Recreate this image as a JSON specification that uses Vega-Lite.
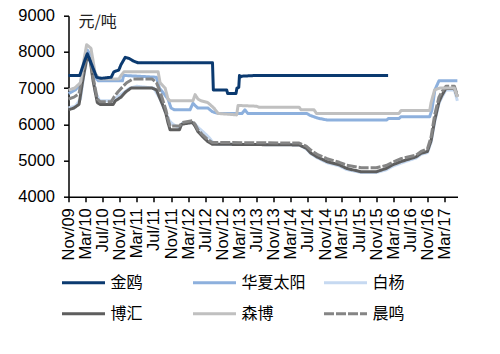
{
  "$schema": "https://vega.github.io/schema/vega-lite/v6.json",
  "autosize": "none",
  "width": 389,
  "height": 181,
  "padding": {"left": 68.5, "top": 15.7, "right": 42.5, "bottom": 157.3},
  "background": "white",
  "config": {
    "view": {"stroke": null},
    "axis": {"domainColor": "#000", "tickColor": "#000", "grid": false, "labelColor": "#000", "labelFont": "Liberation Sans", "labelFontSize": 16.5, "domainWidth": 1.5, "tickWidth": 1.5}
  },
  "datasets": {
    "rows": [
      {"s":"白杨","d":"2009-11-01","v":6450},{"s":"白杨","d":"2009-12-20","v":6500},{"s":"白杨","d":"2010-01-25","v":6700},{"s":"白杨","d":"2010-02-20","v":7400},{"s":"白杨","d":"2010-03-15","v":7800},{"s":"白杨","d":"2010-04-10","v":7700},{"s":"白杨","d":"2010-05-10","v":6900},{"s":"白杨","d":"2010-06-10","v":6650},{"s":"白杨","d":"2010-09-10","v":6650},{"s":"白杨","d":"2010-10-10","v":6750},{"s":"白杨","d":"2010-11-20","v":6850},{"s":"白杨","d":"2011-01-10","v":7000},{"s":"白杨","d":"2011-03-01","v":7050},{"s":"白杨","d":"2011-07-01","v":7000},{"s":"白杨","d":"2011-08-15","v":6700},{"s":"白杨","d":"2011-09-15","v":6400},{"s":"白杨","d":"2011-10-20","v":6100},{"s":"白杨","d":"2011-11-15","v":6000},{"s":"白杨","d":"2011-12-31","v":5900},{"s":"白杨","d":"2012-01-20","v":6030},{"s":"白杨","d":"2012-04-01","v":6050},{"s":"白杨","d":"2012-04-20","v":6000},{"s":"白杨","d":"2012-05-15","v":5900},{"s":"白杨","d":"2012-06-20","v":5780},{"s":"白杨","d":"2012-07-25","v":5650},{"s":"白杨","d":"2012-08-25","v":5500},{"s":"白杨","d":"2012-09-20","v":5450},{"s":"白杨","d":"2014-05-01","v":5430},{"s":"白杨","d":"2014-06-20","v":5320},{"s":"白杨","d":"2014-07-25","v":5180},{"s":"白杨","d":"2014-09-05","v":5080},{"s":"白杨","d":"2014-11-15","v":4940},{"s":"白杨","d":"2015-02-10","v":4850},{"s":"白杨","d":"2015-04-05","v":4750},{"s":"白杨","d":"2015-07-15","v":4670},{"s":"白杨","d":"2015-11-01","v":4670},{"s":"白杨","d":"2016-01-10","v":4740},{"s":"白杨","d":"2016-02-25","v":4840},{"s":"白杨","d":"2016-04-25","v":4930},{"s":"白杨","d":"2016-08-10","v":5070},{"s":"白杨","d":"2016-09-15","v":5170},{"s":"白杨","d":"2016-10-30","v":5220},{"s":"白杨","d":"2016-11-25","v":5500},{"s":"白杨","d":"2016-12-20","v":6050},{"s":"白杨","d":"2017-01-20","v":6580},{"s":"白杨","d":"2017-02-10","v":6750},{"s":"白杨","d":"2017-03-10","v":6950},{"s":"白杨","d":"2017-05-10","v":6950},{"s":"白杨","d":"2017-05-31","v":6650},

      {"s":"华夏太阳","d":"2009-11-01","v":6850},{"s":"华夏太阳","d":"2009-12-20","v":6950},{"s":"华夏太阳","d":"2010-01-25","v":7100},{"s":"华夏太阳","d":"2010-02-20","v":7700},{"s":"华夏太阳","d":"2010-03-15","v":8050},{"s":"华夏太阳","d":"2010-04-10","v":7900},{"s":"华夏太阳","d":"2010-05-10","v":7300},{"s":"华夏太阳","d":"2010-06-01","v":7200},{"s":"华夏太阳","d":"2010-11-20","v":7200},{"s":"华夏太阳","d":"2010-11-28","v":7350},{"s":"华夏太阳","d":"2011-07-20","v":7300},{"s":"华夏太阳","d":"2011-08-10","v":7000},{"s":"华夏太阳","d":"2011-09-10","v":6850},{"s":"华夏太阳","d":"2011-10-10","v":6700},{"s":"华夏太阳","d":"2011-11-01","v":6450},{"s":"华夏太阳","d":"2011-11-25","v":6400},{"s":"华夏太阳","d":"2012-03-15","v":6400},{"s":"华夏太阳","d":"2012-04-05","v":6580},{"s":"华夏太阳","d":"2012-04-25","v":6500},{"s":"华夏太阳","d":"2012-05-10","v":6450},{"s":"华夏太阳","d":"2012-07-20","v":6450},{"s":"华夏太阳","d":"2012-08-20","v":6350},{"s":"华夏太阳","d":"2012-10-01","v":6300},{"s":"华夏太阳","d":"2013-03-20","v":6300},{"s":"华夏太阳","d":"2013-04-10","v":6400},{"s":"华夏太阳","d":"2013-04-30","v":6300},{"s":"华夏太阳","d":"2014-06-25","v":6300},{"s":"华夏太阳","d":"2014-07-15","v":6250},{"s":"华夏太阳","d":"2014-09-10","v":6170},{"s":"华夏太阳","d":"2014-11-15","v":6120},{"s":"华夏太阳","d":"2016-01-15","v":6120},{"s":"华夏太阳","d":"2016-01-25","v":6160},{"s":"华夏太阳","d":"2016-04-10","v":6160},{"s":"华夏太阳","d":"2016-04-25","v":6210},{"s":"华夏太阳","d":"2016-11-15","v":6210},{"s":"华夏太阳","d":"2016-12-01","v":6400},{"s":"华夏太阳","d":"2016-12-22","v":6950},{"s":"华夏太阳","d":"2017-01-20","v":7200},{"s":"华夏太阳","d":"2017-05-31","v":7200},

      {"s":"博汇","d":"2009-11-01","v":6400},{"s":"博汇","d":"2009-12-10","v":6450},{"s":"博汇","d":"2010-01-15","v":6550},{"s":"博汇","d":"2010-02-10","v":7200},{"s":"博汇","d":"2010-03-12","v":7850},{"s":"博汇","d":"2010-04-05","v":7750},{"s":"博汇","d":"2010-04-25","v":7200},{"s":"博汇","d":"2010-05-25","v":6600},{"s":"博汇","d":"2010-06-15","v":6550},{"s":"博汇","d":"2010-09-15","v":6550},{"s":"博汇","d":"2010-10-01","v":6650},{"s":"博汇","d":"2010-11-10","v":6750},{"s":"博汇","d":"2010-12-15","v":6900},{"s":"博汇","d":"2011-01-20","v":7000},{"s":"博汇","d":"2011-06-20","v":7000},{"s":"博汇","d":"2011-07-20","v":6950},{"s":"博汇","d":"2011-08-10","v":6750},{"s":"博汇","d":"2011-09-01","v":6550},{"s":"博汇","d":"2011-09-25","v":6300},{"s":"博汇","d":"2011-10-10","v":6050},{"s":"博汇","d":"2011-10-25","v":5850},{"s":"博汇","d":"2011-12-31","v":5850},{"s":"博汇","d":"2012-01-15","v":6000},{"s":"博汇","d":"2012-04-01","v":6050},{"s":"博汇","d":"2012-04-20","v":5950},{"s":"博汇","d":"2012-05-10","v":5800},{"s":"博汇","d":"2012-06-15","v":5650},{"s":"博汇","d":"2012-07-20","v":5520},{"s":"博汇","d":"2012-08-20","v":5450},{"s":"博汇","d":"2014-05-01","v":5430},{"s":"博汇","d":"2014-06-20","v":5340},{"s":"博汇","d":"2014-07-25","v":5200},{"s":"博汇","d":"2014-09-05","v":5100},{"s":"博汇","d":"2014-11-15","v":4970},{"s":"博汇","d":"2015-02-10","v":4880},{"s":"博汇","d":"2015-04-05","v":4780},{"s":"博汇","d":"2015-07-15","v":4690},{"s":"博汇","d":"2015-11-01","v":4690},{"s":"博汇","d":"2016-01-10","v":4780},{"s":"博汇","d":"2016-02-25","v":4880},{"s":"博汇","d":"2016-04-25","v":4970},{"s":"博汇","d":"2016-08-10","v":5100},{"s":"博汇","d":"2016-09-15","v":5200},{"s":"博汇","d":"2016-10-30","v":5250},{"s":"博汇","d":"2016-11-25","v":5550},{"s":"博汇","d":"2016-12-20","v":6100},{"s":"博汇","d":"2017-01-20","v":6620},{"s":"博汇","d":"2017-02-10","v":6800},{"s":"博汇","d":"2017-03-10","v":6990},{"s":"博汇","d":"2017-05-10","v":6990},{"s":"博汇","d":"2017-05-31","v":6760},

      {"s":"晨鸣","d":"2009-11-01","v":6700},{"s":"晨鸣","d":"2009-12-10","v":6750},{"s":"晨鸣","d":"2010-01-15","v":6850},{"s":"晨鸣","d":"2010-02-10","v":7400},{"s":"晨鸣","d":"2010-03-10","v":7900},{"s":"晨鸣","d":"2010-04-05","v":7800},{"s":"晨鸣","d":"2010-04-25","v":7300},{"s":"晨鸣","d":"2010-05-25","v":6700},{"s":"晨鸣","d":"2010-06-15","v":6620},{"s":"晨鸣","d":"2010-09-01","v":6620},{"s":"晨鸣","d":"2010-09-20","v":6750},{"s":"晨鸣","d":"2010-10-20","v":6900},{"s":"晨鸣","d":"2010-11-25","v":7050},{"s":"晨鸣","d":"2010-12-20","v":7150},{"s":"晨鸣","d":"2011-02-01","v":7250},{"s":"晨鸣","d":"2011-06-20","v":7250},{"s":"晨鸣","d":"2011-07-20","v":7150},{"s":"晨鸣","d":"2011-08-10","v":6950},{"s":"晨鸣","d":"2011-09-01","v":6700},{"s":"晨鸣","d":"2011-09-25","v":6400},{"s":"晨鸣","d":"2011-10-10","v":6150},{"s":"晨鸣","d":"2011-10-25","v":5950},{"s":"晨鸣","d":"2011-12-31","v":5950},{"s":"晨鸣","d":"2012-01-20","v":6050},{"s":"晨鸣","d":"2012-04-01","v":6100},{"s":"晨鸣","d":"2012-04-20","v":6000},{"s":"晨鸣","d":"2012-05-10","v":5850},{"s":"晨鸣","d":"2012-06-15","v":5700},{"s":"晨鸣","d":"2012-07-20","v":5580},{"s":"晨鸣","d":"2012-08-20","v":5500},{"s":"晨鸣","d":"2014-05-01","v":5480},{"s":"晨鸣","d":"2014-06-20","v":5400},{"s":"晨鸣","d":"2014-07-25","v":5280},{"s":"晨鸣","d":"2014-09-05","v":5170},{"s":"晨鸣","d":"2014-11-15","v":5050},{"s":"晨鸣","d":"2015-02-10","v":4950},{"s":"晨鸣","d":"2015-04-05","v":4870},{"s":"晨鸣","d":"2015-07-15","v":4800},{"s":"晨鸣","d":"2015-11-01","v":4800},{"s":"晨鸣","d":"2016-01-10","v":4860},{"s":"晨鸣","d":"2016-02-25","v":4950},{"s":"晨鸣","d":"2016-04-25","v":5050},{"s":"晨鸣","d":"2016-08-10","v":5150},{"s":"晨鸣","d":"2016-09-15","v":5250},{"s":"晨鸣","d":"2016-10-30","v":5320},{"s":"晨鸣","d":"2016-11-25","v":5650},{"s":"晨鸣","d":"2016-12-20","v":6250},{"s":"晨鸣","d":"2017-01-20","v":6750},{"s":"晨鸣","d":"2017-02-10","v":6900},{"s":"晨鸣","d":"2017-03-10","v":7050},{"s":"晨鸣","d":"2017-05-10","v":7050},{"s":"晨鸣","d":"2017-05-31","v":6800},

      {"s":"森博","d":"2009-11-01","v":6950},{"s":"森博","d":"2009-12-15","v":7000},{"s":"森博","d":"2010-01-25","v":7150},{"s":"森博","d":"2010-02-20","v":7800},{"s":"森博","d":"2010-03-10","v":8200},{"s":"森博","d":"2010-04-10","v":8100},{"s":"森博","d":"2010-05-10","v":7400},{"s":"森博","d":"2010-06-10","v":7250},{"s":"森博","d":"2010-10-25","v":7250},{"s":"森博","d":"2010-11-10","v":7350},{"s":"森博","d":"2010-12-01","v":7450},{"s":"森博","d":"2011-08-01","v":7450},{"s":"森博","d":"2011-08-15","v":7150},{"s":"森博","d":"2011-09-20","v":7000},{"s":"森博","d":"2011-10-10","v":6700},{"s":"森博","d":"2011-10-25","v":6650},{"s":"森博","d":"2012-04-05","v":6650},{"s":"森博","d":"2012-04-20","v":6820},{"s":"森博","d":"2012-05-10","v":6700},{"s":"森博","d":"2012-06-01","v":6650},{"s":"森博","d":"2012-07-20","v":6600},{"s":"森博","d":"2012-09-01","v":6450},{"s":"森博","d":"2012-10-01","v":6300},{"s":"森博","d":"2013-02-10","v":6260},{"s":"森博","d":"2013-02-20","v":6520},{"s":"森博","d":"2013-07-01","v":6500},{"s":"森博","d":"2013-07-20","v":6470},{"s":"森博","d":"2014-05-01","v":6470},{"s":"森博","d":"2014-05-15","v":6400},{"s":"森博","d":"2014-08-15","v":6400},{"s":"森博","d":"2014-09-01","v":6300},{"s":"森博","d":"2016-04-10","v":6300},{"s":"森博","d":"2016-04-25","v":6380},{"s":"森博","d":"2016-11-15","v":6380},{"s":"森博","d":"2016-11-25","v":6600},{"s":"森博","d":"2016-12-20","v":6950},{"s":"森博","d":"2017-01-25","v":7000},{"s":"森博","d":"2017-05-10","v":7000},{"s":"森博","d":"2017-05-31","v":6750},

      {"s":"金鸥","d":"2009-11-01","v":7350},{"s":"金鸥","d":"2010-01-20","v":7350},{"s":"金鸥","d":"2010-02-28","v":7800},{"s":"金鸥","d":"2010-03-15","v":7950},{"s":"金鸥","d":"2010-04-10","v":7700},{"s":"金鸥","d":"2010-05-20","v":7300},{"s":"金鸥","d":"2010-06-20","v":7270},{"s":"金鸥","d":"2010-09-01","v":7300},{"s":"金鸥","d":"2010-09-20","v":7450},{"s":"金鸥","d":"2010-10-25","v":7500},{"s":"金鸥","d":"2010-11-10","v":7650},{"s":"金鸥","d":"2010-12-10","v":7850},{"s":"金鸥","d":"2011-01-05","v":7820},{"s":"金鸥","d":"2011-02-05","v":7750},{"s":"金鸥","d":"2011-03-10","v":7700},{"s":"金鸥","d":"2012-08-22","v":7700},{"s":"金鸥","d":"2012-08-28","v":6950},{"s":"金鸥","d":"2012-12-01","v":6950},{"s":"金鸥","d":"2012-12-08","v":6850},{"s":"金鸥","d":"2013-02-05","v":6850},{"s":"金鸥","d":"2013-02-12","v":7000},{"s":"金鸥","d":"2013-02-25","v":7020},{"s":"金鸥","d":"2013-03-02","v":7350},{"s":"金鸥","d":"2013-03-10","v":7310},{"s":"金鸥","d":"2013-03-20","v":7330},{"s":"金鸥","d":"2013-07-01","v":7350},{"s":"金鸥","d":"2016-01-24","v":7350}
    ]
  },
  "data": {"name": "rows"},
  "mark": {"type": "line", "strokeWidth": 3, "strokeJoin": "round"},
  "encoding": {
    "x": {
      "field": "d", "type": "temporal",
      "scale": {"domain": [{"year": 2009, "month": 11, "date": 1}, {"year": 2017, "month": 6, "date": 1}], "nice": false},
      "axis": {
        "title": null, "format": "%b/%y", "labelAngle": 270, "tickSize": 5, "labelPadding": 6,
        "values": [
          {"year": 2009, "month": 11, "date": 1}, {"year": 2010, "month": 3, "date": 1}, {"year": 2010, "month": 7, "date": 1}, {"year": 2010, "month": 11, "date": 1},
          {"year": 2011, "month": 3, "date": 1}, {"year": 2011, "month": 7, "date": 1}, {"year": 2011, "month": 11, "date": 1},
          {"year": 2012, "month": 3, "date": 1}, {"year": 2012, "month": 7, "date": 1}, {"year": 2012, "month": 11, "date": 1},
          {"year": 2013, "month": 3, "date": 1}, {"year": 2013, "month": 7, "date": 1}, {"year": 2013, "month": 11, "date": 1},
          {"year": 2014, "month": 3, "date": 1}, {"year": 2014, "month": 7, "date": 1}, {"year": 2014, "month": 11, "date": 1},
          {"year": 2015, "month": 3, "date": 1}, {"year": 2015, "month": 7, "date": 1}, {"year": 2015, "month": 11, "date": 1},
          {"year": 2016, "month": 3, "date": 1}, {"year": 2016, "month": 7, "date": 1}, {"year": 2016, "month": 11, "date": 1},
          {"year": 2017, "month": 3, "date": 1}
        ]
      }
    },
    "y": {
      "field": "v", "type": "quantitative",
      "scale": {"domain": [4000, 9000], "nice": false, "zero": false},
      "axis": {
        "title": "元/吨", "titleAngle": 0, "titleAlign": "left", "titleBaseline": "middle", "titleX": 9.5, "titleY": 6,
        "titleFont": "Noto Sans CJK SC", "titleFontSize": 16, "titleFontWeight": "normal", "titleColor": "#222",
        "values": [4000, 5000, 6000, 7000, 8000, 9000], "tickSize": 5, "labelPadding": 9, "format": "d"
      }
    },
    "color": {
      "field": "s", "type": "nominal",
      "scale": {"domain": ["金鸥", "华夏太阳", "白杨", "博汇", "森博", "晨鸣"], "range": ["#0B3A70", "#8DB0DD", "#C6D9F1", "#5E5E5E", "#C0C0C0", "#858585"]},
      "legend": {
        "title": null, "orient": "none", "legendX": -8, "legendY": 244, "direction": "horizontal", "columns": 3, "gridAlign": "all",
        "columnPadding": 11, "rowPadding": -2, "symbolType": "stroke", "symbolSize": 1849, "symbolStrokeWidth": 3,
        "labelFont": "Noto Sans CJK SC", "labelFontSize": 16, "labelColor": "#000", "labelOffset": 4, "padding": 0
      }
    },
    "strokeDash": {
      "field": "s", "type": "nominal",
      "scale": {"domain": ["金鸥", "华夏太阳", "白杨", "博汇", "森博", "晨鸣"], "range": [[1, 0], [1, 0], [1, 0], [1, 0], [1, 0], [10, 2]]},
      "legend": {
        "title": null, "orient": "none", "legendX": -8, "legendY": 244, "direction": "horizontal", "columns": 3, "gridAlign": "all",
        "columnPadding": 11, "rowPadding": -2, "symbolType": "stroke", "symbolSize": 1849, "symbolStrokeWidth": 3,
        "labelFont": "Noto Sans CJK SC", "labelFontSize": 16, "labelColor": "#000", "labelOffset": 4, "padding": 0
      }
    }
  }
}
